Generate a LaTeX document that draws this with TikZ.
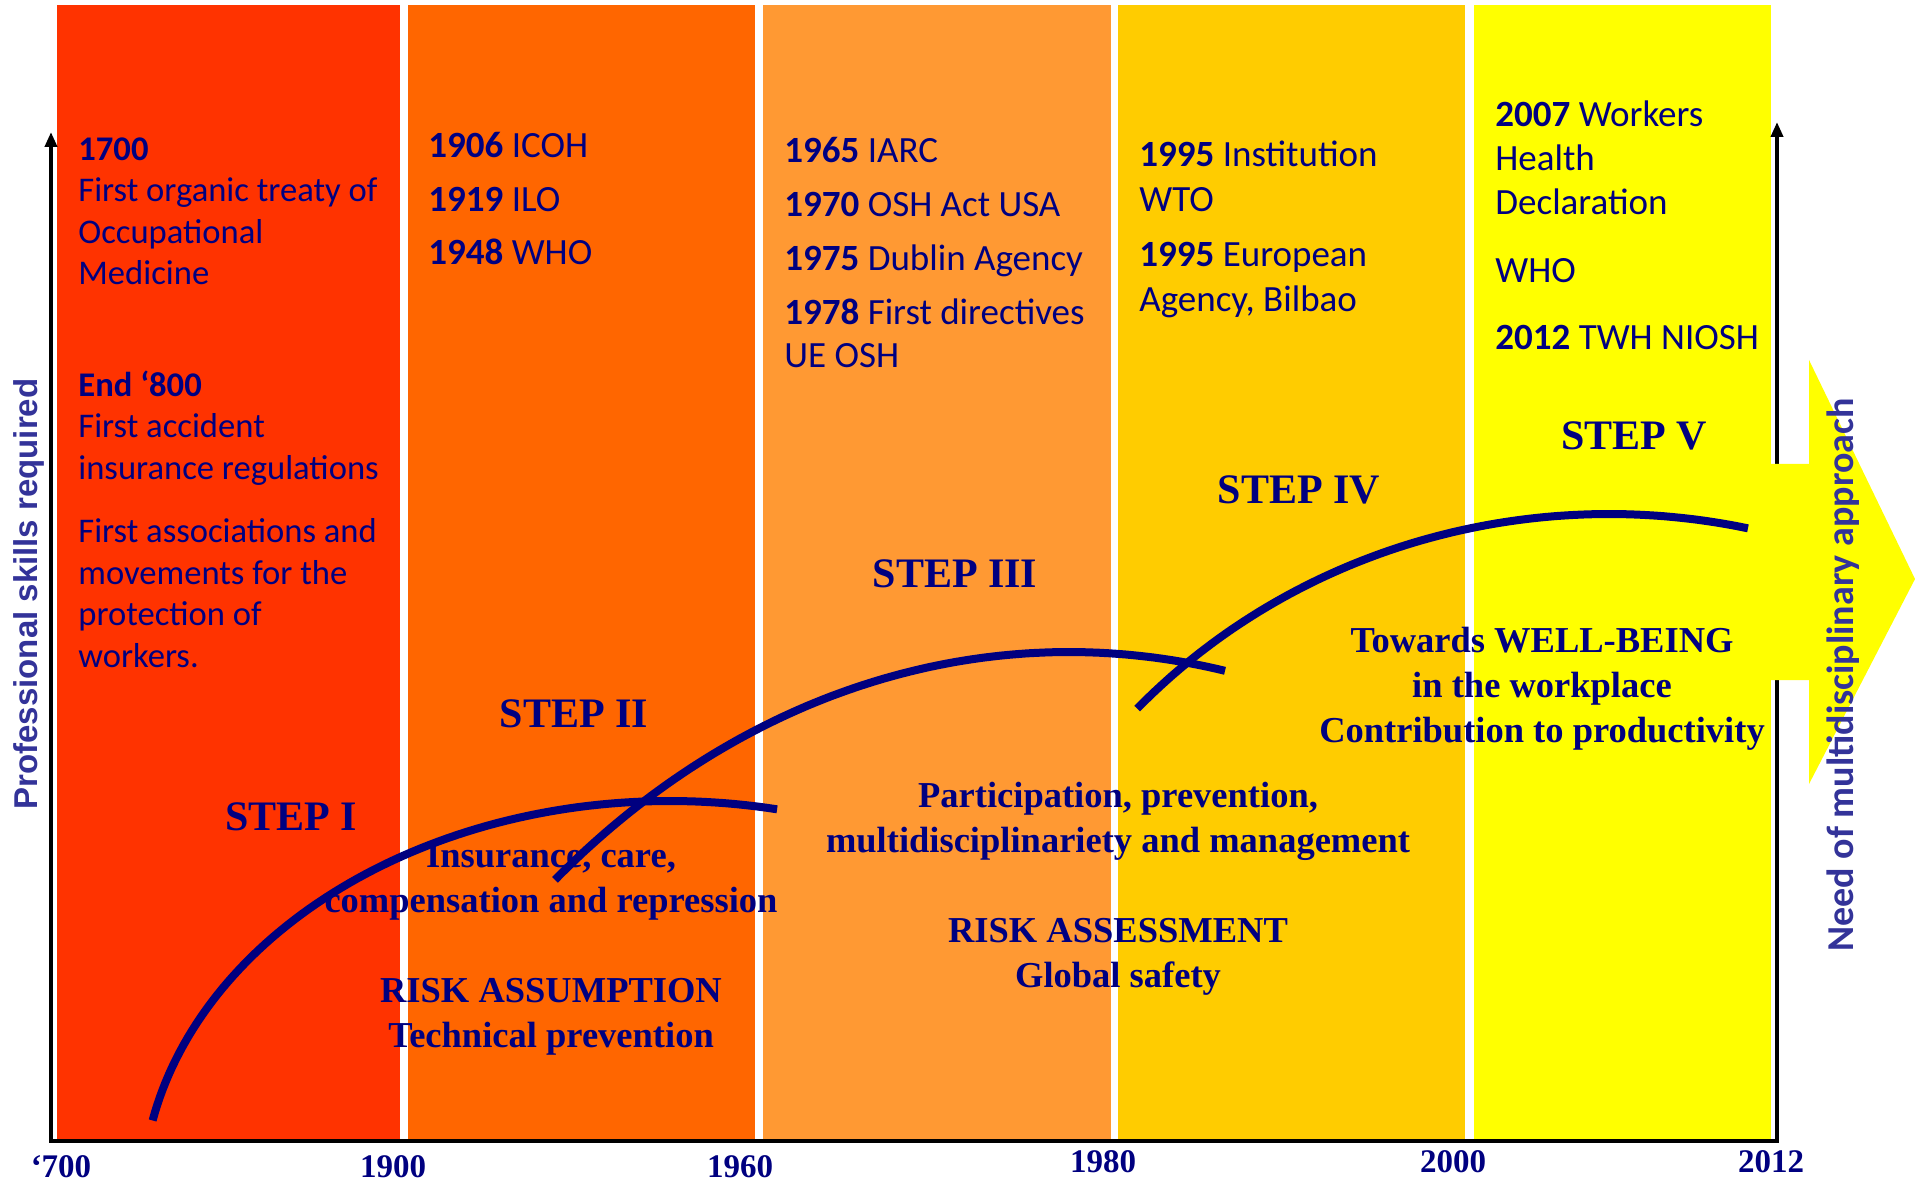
\documentclass[tikz,border=0pt]{standalone}
\usepackage{fontspec}
\setmainfont{Liberation Serif}
\newfontfamily\carlito{Carlito}
\newfontfamily\libsans{Liberation Sans}
\usetikzlibrary{arrows.meta}
\definecolor{stepone}{RGB}{255,51,0}
\definecolor{steptwo}{RGB}{255,102,0}
\definecolor{stepthree}{RGB}{255,153,51}
\definecolor{stepfour}{RGB}{255,204,0}
\definecolor{stepfive}{RGB}{255,255,0}
\definecolor{navytext}{RGB}{0,0,128}
\definecolor{axistitle}{RGB}{51,51,153}

\tikzset{
  events/.style={anchor=base west,align=left,inner sep=0pt,text=navytext,
    font=\carlito\fontsize{18.5}{21.5}\selectfont},
  steplabel/.style={anchor=base,inner sep=0pt,text=navytext,
    font=\bfseries\fontsize{21}{25}\selectfont},
  phase/.style={anchor=base,align=center,inner sep=0pt,text=navytext,
    font=\bfseries\fontsize{18.25}{22.5}\selectfont},
  yearlabel/.style={anchor=base,inner sep=0pt,text=navytext,
    font=\bfseries\fontsize{16.5}{20}\selectfont},
  trend/.style={line width=4pt,draw=navytext},
}

\begin{document}
\begin{tikzpicture}[x=0.5pt,y=-0.5pt]
  \useasboundingbox (0,0) rectangle (1915,1181);
  % periods:
  \foreach \l/\r/\c in {57/400/stepone, 408/755/steptwo, 763/1111/stepthree,
                        1118/1465/stepfour, 1474/1771/stepfive}
     \fill[\c] (\l,5) rectangle (\r,1140);

  % axes:
  \draw[line width=2pt,-{Triangle[length=7.5pt,width=6pt]}] (51,1141) -- (51,132);
  \draw[line width=2pt] (49,1141) -- (1779,1141);
  \draw[line width=2pt,-{Triangle[length=7.5pt,width=6pt]}] (1777,1141) -- (1777,122);
  \fill[stepfive] (1771,464) -- (1809,464) -- (1809,360) -- (1915,579)
                  -- (1809,784) -- (1809,680) -- (1771,680) -- cycle;
  \foreach \yr/\xpos/\ypos [count=\i] in {‘700/61/1177, 1900/393/1177, 1960/740/1177,
                                         1980/1103/1172, 2000/1453/1172, 2012/1771/1172}
     \node[yearlabel] (year\i) at (\xpos,\ypos) {\yr};

  \node[rotate=90,inner sep=0pt,text=axistitle,font=\libsans\bfseries\fontsize{16.5}{20}\selectfont]
     (skills) at (29,594) {Professional skills required};
  \node[rotate=90,inner sep=0pt,text=axistitle,font=\carlito\bfseries\fontsize{19}{22}\selectfont]
     (multi) at (1843,675) {Need of multidisciplinary approach};

  % events (placed by the baseline of their last line):
  \node[events,font=\carlito\fontsize{17.3}{20.75}\selectfont] (ev1) at (78,667)
     {\textbf{1700}\\ First organic treaty of\\ Occupational\\ Medicine\\[35pt]
      \textbf{End ‘800}\\ First accident\\ insurance regulations\\[11pt]
      First associations and\\ movements for the\\ protection of\\ workers.};
  \node[events] (ev2) at (428,265)
     {\textbf{1906} ICOH\\[5.25pt] \textbf{1919} ILO\\[5.25pt] \textbf{1948} WHO};
  \node[events] (ev3) at (784,368)
     {\textbf{1965} IARC\\[5.5pt] \textbf{1970} OSH Act USA\\[5.5pt]
      \textbf{1975} Dublin Agency\\[5.5pt] \textbf{1978} First directives\\ UE OSH};
  \node[events] (ev4) at (1139,312)
     {\textbf{1995} Institution\\[1pt] WTO\\[6pt] \textbf{1995} European\\[1pt] Agency, Bilbao};
  \node[events] (ev5) at (1495,350)
     {\textbf{2007} Workers\\[0.5pt] Health\\[0.5pt] Declaration\\[12.5pt] WHO\\[12pt]
      \textbf{2012} TWH NIOSH};

  % steps:
  \node[steplabel] (step1) at (291,830) {STEP I};
  \node[steplabel] (step2) at (574,727) {STEP II};
  \node[steplabel] (step3) at (955,587) {STEP III};
  \node[steplabel] (step4) at (1299,503) {STEP IV};
  \node[steplabel] (step5) at (1634,450) {STEP V};

  \node[phase] (care) at (551,912) {Insurance, care,\\ compensation and repression};
  \node[phase] (assumption) at (551,1047) {RISK ASSUMPTION\\ Technical prevention};
  \node[phase] (participation) at (1118,852)
     {Participation, prevention,\\ multidisciplinariety and management};
  \node[phase] (assessment) at (1118,987) {RISK ASSESSMENT\\ Global safety};
  \node[phase] (wellbeing) at (1542,742)
     {Towards WELL-BEING\\ in the workplace\\ Contribution to productivity};

  % trends:
  \begin{scope}[trend]
      \draw plot[domain=168.5:78.3,samples=80] ({670+528*cos(\x)},{1200-399*sin(\x)});
      \draw plot[domain=129.45:78.88,samples=80] ({1069+809*cos(\x)},{1652-1000*sin(\x)});
      \draw plot[domain=137.5:77.46,samples=80] ({1609+640*cos(\x)},{1114-600*sin(\x)});
  \end{scope}
\end{tikzpicture}
\end{document}
